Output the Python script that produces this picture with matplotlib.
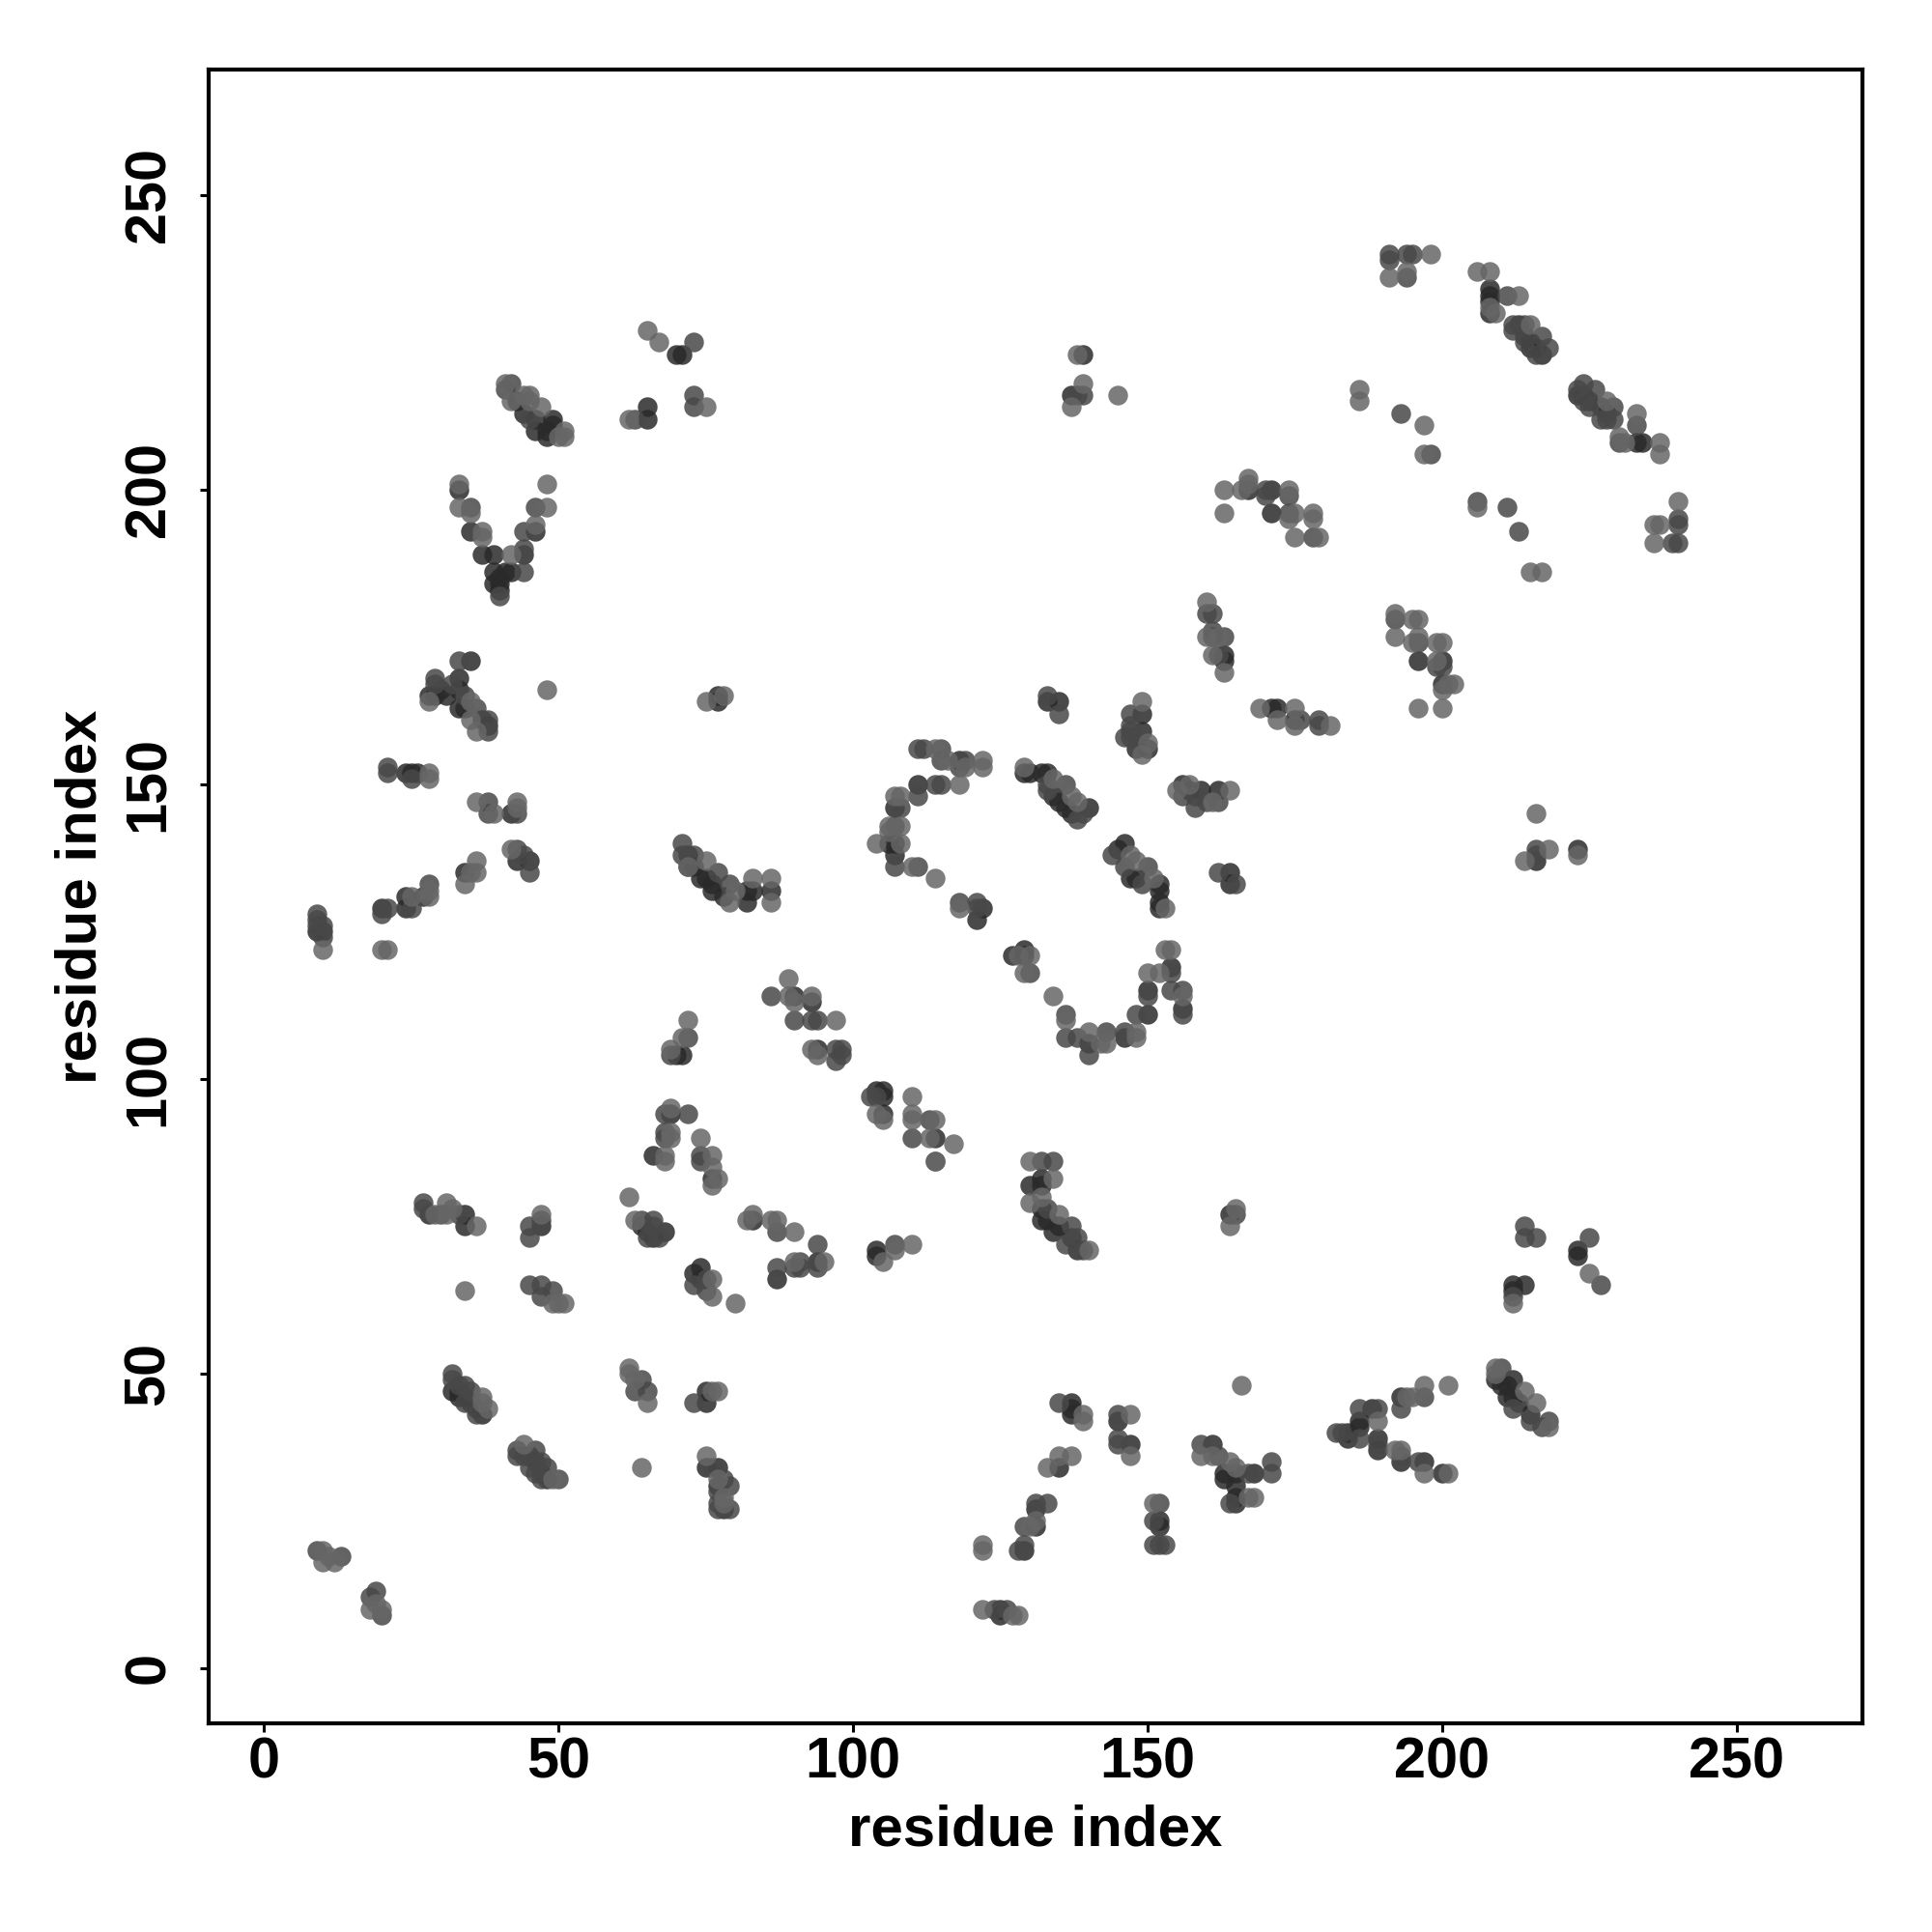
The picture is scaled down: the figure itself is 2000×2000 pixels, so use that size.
import matplotlib
matplotlib.use('Agg')
import matplotlib.pyplot as plt

# contact points (residue i, residue j), split by how dark the dot is
dark_pts = [
    (28,77),(34,77),(34,75),(47,75),(64,75),(65,74),(66,73),(68,74),(74,68),(73,67),(74,66),(83,76),(87,66),(94,69),
    (32,47),(33,47),(33,46),(34,46),(35,45),(36,44),(37,43),(45,36),(46,35),(47,33),(48,32),(75,47),(75,45),(75,34),(77,34),(77,31),(78,27),
    (104,71),(104,70),(132,83),(132,82),(130,82),(132,78),(132,76),(133,76),(134,74),(135,75),(137,73),(138,71),(164,77),
    (223,71),(223,70),(212,65),(214,65),(212,64),(137,45),(137,44),(137,43),(145,42),(147,38),(135,34),(161,38),
    (163,33),(165,33),(168,33),(165,31),(165,29),(165,28),(163,32),(131,27),(131,24),(129,20),(152,25),(152,24),
    (125,10),(125,9),(188,44),(193,46),(186,42),(184,40),(186,41),(184,39),(189,39),(189,37),(193,35),(197,35),(200,33),
    (209,49),(212,49),(210,48),(211,46),(212,46),(213,45),(215,43),(211,48),
    (35,171),(28,165),(30,166),(29,165),(33,168),(33,166),(31,165),(33,163),(34,163),(37,161),(38,160),(77,165),(77,164),
    (24,152),(25,152),(26,152),(42,145),(43,137),(45,137),(34,135),(27,131),(24,131),(24,129),(20,129),(9,125),(10,125),
    (72,138),(72,136),(74,134),(76,132),(73,136),(75,134),(76,133),(78,131),(82,132),(83,132),(82,130),(86,132),
    (90,114),(93,113),(94,105),(70,104),(71,104),(69,94),(66,87),(76,83),
    (133,164),(135,164),(149,162),(149,159),(150,156),(148,156),(163,172),(163,171),(171,163),(172,163),(175,161),
    (196,171),(200,171),(200,167),(216,137),(223,139),(164,135),(164,133),(156,150),(159,149),(162,149),(157,149),
    (111,150),(118,154),(107,146),(106,140),(107,140),(107,138),(122,129),(121,127),(127,121),(129,122),(129,121),
    (140,106),(146,107),(150,111),(150,115),(154,119),(156,112),
    (129,152),(130,152),(132,152),(133,152),(140,146),(135,147),(137,145),(134,148),(136,146),
    (146,140),(145,139),(147,134),(152,133),(152,132),(152,130),(152,129),(148,134),
    (104,98),(105,98),(105,97),(105,94),(114,90),
    (70,223),(71,223),(65,214),(65,212),(139,223),(137,216),(44,213),(46,210),(49,212),(49,211),(48,209),(43,215),(46,212),(48,210),
    (33,200),(46,193),(35,193),(37,189),(39,189),(44,189),(39,186),(41,186),(39,184),(40,184),(40,183),(42,186),(40,185),
    (208,234),(208,233),(208,232),(208,230),(213,228),(215,224),(217,223),(214,226),(215,225),(216,224),
    (223,216),(224,216),(225,215),(227,214),(228,213),(233,208),(234,208),(167,200),(171,200),(171,196),
]
mid_pts = [
    (27,79),(27,78),(30,77),(33,77),(47,76),(45,75),(45,73),(45,65),(47,65),(49,64),(47,63),(64,76),(66,76),(66,75),(65,73),(67,73),
    (73,65),(75,66),(75,64),(74,86),(87,74),(94,72),(87,68),(91,69),(90,68),(91,68),(94,68),
    (32,50),(32,49),(33,48),(34,48),(34,45),(35,47),(36,43),(43,37),(43,36),(46,37),(45,34),(47,35),(48,34),(47,32),(50,32),(46,33),(44,36),
    (63,47),(64,49),(65,47),(73,45),(76,34),(78,32),(79,31),(77,28),(77,27),(79,27),(77,30),(9,20),(13,19),(19,13),(18,12),(20,9),
    (107,72),(132,86),(134,86),(133,78),(137,75),(138,73),(136,72),(139,71),(165,77),
    (214,75),(214,73),(216,73),(225,73),(227,65),(212,63),(135,45),(145,43),(145,39),(145,38),(159,38),(162,36),
    (167,33),(171,35),(171,33),(164,28),(131,28),(133,28),(129,24),(129,21),(128,20),(152,28),(151,25),(152,21),(151,21),(153,21),
    (124,10),(126,10),(186,44),(189,44),(193,44),(197,46),(182,40),(183,40),(186,39),(189,38),(193,36),(196,35),
    (210,51),(212,44),(215,42),(218,42),(217,41),
    (33,171),(29,168),(29,167),(32,167),(34,165),(36,163),(38,161),(38,159),(21,153),(21,152),(25,151),
    (38,147),(38,145),(43,145),(43,139),(45,135),(44,138),(28,133),(25,129),(21,129),(20,128),
    (9,128),(9,127),(10,126),(10,124),(9,126),(71,140),(71,138),(73,138),(77,135),(79,133),
    (86,114),(90,110),(93,110),(94,110),(97,105),(98,105),(97,103),(98,104),(72,107),(69,104),(68,94),(72,94),(68,91),(68,90),(74,87),
    (133,165),(135,162),(147,162),(147,160),(146,158),(147,158),(147,159),(163,175),(160,179),(161,179),(161,176),(161,175),(162,172),
    (176,161),(179,161),(179,160),(192,178),(196,174),(199,170),(200,170),(216,139),(216,138),(162,135),(165,133),
    (156,148),(158,148),(158,146),(160,147),(162,147),
    (111,156),(112,156),(115,156),(115,154),(119,154),(118,153),(114,150),(115,150),(111,148),(108,146),(107,143),(107,136),(111,136),
    (118,130),(121,130),(121,129),(130,118),(136,111),(136,107),(138,107),(140,104),(143,108),(146,108),(148,111),(150,114),(154,118),(154,115),(156,115),(156,111),
    (136,150),(133,149),(138,144),(139,145),(133,150),(144,138),(150,136),(146,136),(149,133),
    (103,97),(104,97),(110,90),(113,93),(114,86),
    (73,225),(63,212),(73,216),(73,214),(139,216),(138,216),(42,218),(41,217),(45,212),
    (35,197),(46,197),(44,193),(44,190),(44,186),(40,182),
    (191,240),(191,239),(194,240),(195,240),(194,236),(211,233),(212,228),(212,227),(214,228),(217,226),(218,224),(214,225),(216,223),
    (224,218),(223,217),(226,217),(224,215),(225,214),(228,212),(227,212),(229,212),(229,214),(233,211),(230,208),
    (193,213),(198,206),(170,200),(170,199),(174,199),(174,196),(178,192),(206,198),(211,197),(213,193),(240,195),(240,194),(239,191),(240,191),
]
light_pts = [
    (29,77),(31,79),(32,78),(31,77),(36,75),(47,77),(34,64),(49,62),(50,62),(51,62),(62,80),(63,76),(76,66),(76,63),(80,62),(76,85),(77,83),(76,82),
    (68,86),(82,76),(83,77),(86,76),(87,76),(90,74),(90,69),(95,69),
    (37,46),(37,45),(38,44),(44,38),(49,32),(64,34),(62,51),(62,50),(63,49),(65,45),(76,47),(77,47),(75,36),(77,32),(78,28),(78,29),
    (10,20),(11,19),(10,18),(12,18),(18,10),(20,10),(19,11),
    (114,86),(107,71),(110,72),(105,69),(130,86),(134,83),(132,80),(130,79),(135,77),(140,71),(165,78),(164,75),
    (225,67),(212,62),(166,48),(139,43),(139,42),(147,43),(147,36),(135,36),(137,36),(133,34),(159,36),(161,36),(164,35),(165,34),
    (168,29),(167,29),(131,25),(130,24),(122,21),(122,20),(151,28),(122,10),(127,9),(128,9),
    (194,46),(197,48),(195,46),(201,48),(189,42),(193,37),(192,37),(197,33),(201,33),
    (209,51),(209,50),(214,47),(216,45),(218,41),
    (28,164),(35,164),(35,161),(36,159),(48,166),(75,164),(78,165),(28,152),(28,151),
    (36,147),(39,145),(43,147),(43,146),(42,139),(36,137),(36,135),(35,135),(34,133),(28,132),(28,131),(25,131),(10,122),(20,122),(21,122),
    (75,137),(72,136),(80,132),(79,130),(83,134),(86,134),(86,130),
    (89,117),(89,114),(93,114),(90,113),(97,110),(93,105),(94,104),(72,110),(71,107),(69,105),(69,95),(69,91),(69,90),(74,90),(68,87),(76,87),
    (149,164),(150,157),(149,155),(160,181),(160,175),(162,175),(161,172),(163,169),
    (169,163),(172,161),(175,163),(175,160),(181,160),
    (192,179),(192,175),(195,178),(196,178),(195,174),(196,175),(199,174),(200,174),(199,171),(202,167),(201,167),(200,166),(196,163),(200,163),
    (215,186),(217,186),(216,145),(218,139),(214,137),(223,138),(155,149),(157,150),(164,149),(161,147),
    (114,156),(116,154),(122,154),(122,153),(119,153),(118,150),(107,148),(108,148),(106,143),(108,143),(106,142),(104,140),(108,140),
    (110,136),(114,134),(118,129),(128,121),(130,121),(129,118),(134,114),(136,110),(140,108),(143,106),(142,106),(148,108),(148,107),
    (150,118),(152,118),(153,122),(154,122),(156,114),
    (129,153),(134,151),(137,148),(138,147),(147,138),(148,137),(151,134),(153,129),
    (104,94),(105,93),(110,97),(110,94),(110,93),(114,93),(113,90),(117,89),
    (65,227),(67,225),(62,212),(75,214),(138,223),(139,218),(137,214),(145,216),
    (41,218),(42,215),(45,216),(44,216),(47,214),(51,210),(51,209),(50,209),(45,215),
    (33,201),(48,201),(33,197),(35,196),(48,197),(46,194),(37,193),(37,192),(42,189),
    (198,240),(191,236),(194,237),(206,237),(208,237),(213,233),(209,230),(208,231),(215,228),
    (228,215),(233,213),(230,209),(231,208),(237,208),(237,206),(186,217),(186,215),(197,211),(197,206),
    (163,200),(166,200),(167,202),(167,201),(174,200),(163,196),(175,196),(174,195),(178,196),(178,195),(175,192),(179,192),
    (206,197),(240,198),(236,194),(237,194),(236,191),
]
tick_vals = [0, 50, 100, 150, 200, 250]

plt.rcParams['font.family'] = ['Liberation Sans', 'DejaVu Sans']
fig = plt.figure(figsize=(10, 10), dpi=200)
ax = fig.add_axes([216/2000, 1 - 1784/2000, (1927.5-216)/2000, (1784-72)/2000])

# darkest first so the paler dots sit on top
for pts, col in [(dark_pts, '#2a2a2a'), (mid_pts, '#484848'), (light_pts, '#666666')]:
    xs = [p[0] for p in pts]
    ys = [p[1] for p in pts]
    ax.scatter(xs, ys, s=54, c=col, alpha=0.85, linewidths=0)

ax.set_xlim(-9.4, 271.3)
ax.set_ylim(-9.4, 271.3)
ax.set_xticks(tick_vals)
ax.set_yticks(tick_vals)
ax.tick_params(length=3.2, width=1.1, labelsize=21.4)
ax.tick_params(axis='x', pad=1.8)
ax.tick_params(axis='y', pad=9)
for lab in ax.get_xticklabels() + ax.get_yticklabels():
    lab.set_fontweight('bold')
for lab in ax.get_yticklabels():
    lab.set_rotation(90)
    lab.set_va('center')
for sp in ax.spines.values():
    sp.set_linewidth(1.5)
ax.set_xlabel('residue index', fontsize=21.6, fontweight='bold', labelpad=5.4)
ax.set_ylabel('residue index', fontsize=21.6, fontweight='bold', labelpad=5.7)

fig.savefig('out.png', dpi=200)
